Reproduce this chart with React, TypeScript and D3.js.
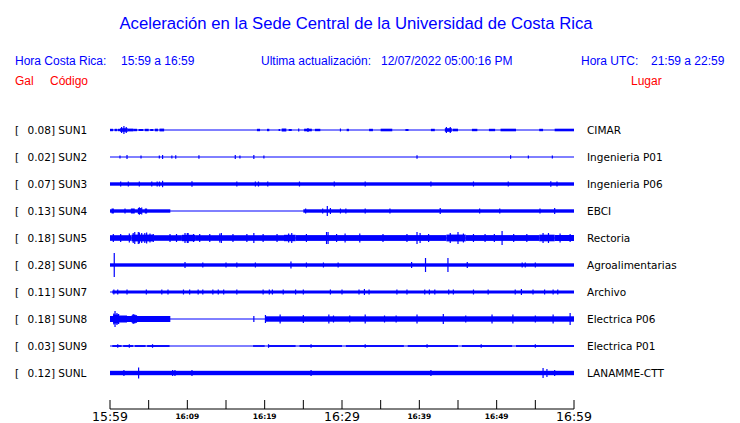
import React from "react";
import * as d3 from "d3";

// ---------- data ----------
const codes = ["SUN1", "SUN2", "SUN3", "SUN4", "SUN5", "SUN6", "SUN7", "SUN8", "SUN9", "SUNL"];
const gals = ["0.08", "0.02", "0.07", "0.13", "0.18", "0.28", "0.11", "0.18", "0.03", "0.12"];
const places = ["CIMAR", "Ingenieria P01", "Ingenieria P06", "EBCI", "Rectoria", "Agroalimentarias", "Archivo", "Electrica P06", "Electrica P01", "LANAMME-CTT"];

const tickMinutes = [0, 5, 10, 15, 20, 25, 30, 35, 40, 45, 50, 55, 60];
const labelMinutes = [0, 10, 20, 30, 40, 50, 60];
const labelTexts = ["15:59", "16:09", "16:19", "16:29", "16:39", "16:49", "16:59"];
const bigLabels = ["15:59", "16:29", "16:59"];

// envelope bands: [startMinute, endMinute, halfAmplitude]
const sun1Bands = [[0, 0.4, 1.2], [0.6, 0.9, 1.2], [1.0, 1.3, 1.2], [1.3, 2.3, 1.8], [2.3, 3.0, 1.4], [3.0, 3.5, 1.2], [3.7, 4.3, 1.0], [4.5, 5.0, 1.2], [5.2, 5.6, 1.0], [5.8, 6.2, 1.3], [6.4, 7.0, 1.4], [19.0, 19.4, 1.2], [20.3, 20.6, 1.2], [21.8, 22.0, 1.0], [22.2, 22.8, 1.5], [23.1, 23.5, 1.0], [25.1, 26.1, 1.3], [26.5, 27.2, 1.2], [30.6, 30.9, 1.2], [33.5, 34.0, 1.2], [35.0, 36.5, 1.3], [38.2, 38.6, 1.0], [41.5, 42.0, 1.2], [43.3, 44.2, 1.8], [44.3, 45.0, 1.3], [46.8, 47.5, 1.2], [49.0, 49.8, 1.2], [50.5, 52.5, 1.3], [55.5, 56.0, 1.2], [57.5, 60, 1.3]];
const sun1Spikes = [[1.5, 3], [1.8, 4], [2.1, 3], [24.4, 1.5], [25.6, 2], [29.8, 1.5], [43.5, 3], [44.0, 3]];

const sun2Bands = [];
const sun2Spikes = [[1.29, 1.5], [2.2, 2], [4.01, 1.5], [6.38, 1.5], [6.8, 2], [8.0, 1.5], [8.5, 1.8], [11.5, 1.8], [16.2, 2], [16.8, 1.5], [18.6, 2], [19.9, 1.5], [39.7, 1.8], [51.8, 1.8], [54.1, 1.5], [57.2, 1.5]];

const sun3Bands = [[0, 60, 1.7]];
const sun3Spikes = [[1.38, 2.5], [2.37, 2.5], [3.79, 2.5], [5.4, 2.5], [6.1, 2.5], [6.4, 2.5], [6.8, 3.2], [10.6, 2.8], [16.4, 2.5], [18.8, 2.5], [19.2, 2.5], [20.4, 2.5], [24.5, 2.5], [29.0, 2.5], [33.0, 2.5], [41.5, 2.5], [47.0, 2.5], [51.5, 2.5], [57.0, 2.8], [57.8, 2.5]];

const sun4Bands = [[0, 7.8, 1.7], [0.2, 0.5, 2.5], [2.7, 3.2, 2.5], [3.6, 4.0, 3.0], [4.5, 4.8, 2.5], [25.0, 60, 1.7]];
const sun4Spikes = [[1.94, 2.5], [3.8, 3.8], [4.1, 3.5], [25.3, 2.5], [27.5, 2.5], [28.1, 5], [28.5, 3], [29.8, 2.5], [30.5, 2.5], [33.0, 2.5], [36.2, 2.5], [42.7, 3], [47.8, 2.5], [50.4, 2.5], [55.6, 2.5], [57.5, 3]];

const sun5Bands = [[0, 2.8, 2.8], [2.8, 5.6, 3.4], [5.6, 9.3, 2.8], [9.3, 11, 3.2], [11, 22.5, 2.8], [22.5, 24, 3.2], [24, 43.5, 2.9], [43.5, 46, 3.4], [46, 55.5, 2.9], [55.5, 57.5, 3.3], [57.5, 60, 3.0]];
const sun5Spikes = [[0.43, 4], [1.38, 4], [2.5, 4.5], [3.0, 5], [3.2, 6], [3.66, 6], [3.8, 5.5], [4.1, 5], [4.5, 5], [4.74, 5.5], [5.17, 4.5], [5.6, 4], [7.76, 4], [8.6, 4], [9.7, 5], [10.0, 5], [10.1, 5], [10.8, 4], [11.6, 4], [12.9, 4], [14.2, 4.5], [14.4, 5], [15.9, 4], [17.7, 4], [18.6, 5], [19.8, 4], [21.6, 4], [23.1, 4.5], [23.5, 5], [25.4, 4], [28.0, 6], [28.2, 6], [29.3, 4], [30.4, 4.5], [32.3, 4.5], [35.3, 4], [38.4, 4], [39.7, 6], [40.1, 5], [41.2, 4], [44.0, 5], [45.0, 6], [45.7, 4.5], [47.0, 4], [48.5, 4], [49.7, 4], [50.7, 7], [52.2, 4], [53.9, 4], [56.0, 5], [56.7, 5], [58.2, 4.5], [59.5, 4]];

const sun6Bands = [[0, 60, 1.7]];
const sun6Spikes = [[0.55, 12], [9.7, 3], [12.0, 2.5], [15.0, 2.5], [16.4, 2.5], [18.8, 2.5], [23.4, 3.5], [25.4, 2.5], [27.6, 2.5], [29.5, 2.5], [39.0, 3], [40.8, 7], [43.7, 7], [46.2, 3], [53.3, 2.5], [53.7, 2.5], [55.0, 2.5]];

const sun7Bands = [[0.3, 60, 1.5]];
const sun7Spikes = [[0.5, 2.5], [1.0, 2.5], [2.2, 2.5], [4.7, 2.5], [6.7, 2.5], [7.5, 2.5], [9.5, 2.5], [10.3, 2.5], [11.4, 2.5], [12.0, 2.5], [13.3, 2.5], [14.0, 2.5], [14.7, 2.5], [16.4, 2.5], [19.8, 2.5], [20.6, 2.5], [21.0, 2.5], [22.4, 2.5], [24.0, 2.5], [25.0, 2.5], [28.5, 2.5], [30.0, 2.5], [32.2, 2.5], [32.9, 3], [33.5, 2.5], [37.1, 2.5], [38.4, 2.5], [40.7, 2.5], [41.3, 2.5], [42.0, 2.5], [43.8, 2.5], [44.4, 2.5], [47.0, 2.5], [48.9, 2.5], [52.4, 2.5], [53.2, 3], [54.7, 2.5], [56.2, 2.5], [57.3, 2.5], [57.9, 2.5]];

const sun8Bands = [[0, 7.8, 3.0], [0.4, 1.2, 4.5], [1.2, 2.2, 3.5], [2.8, 3.5, 3.8], [20.1, 60, 2.7]];
const sun8Spikes = [[0.65, 8], [0.9, 6], [0.5, 5.5], [1.1, 5], [3.0, 5], [3.2, 4.5], [18.6, 3], [20.1, 4], [22.0, 4.5], [25.0, 4], [28.3, 4.5], [28.9, 3.5], [31.0, 3.5], [33.0, 4.5], [35.5, 3.5], [37.0, 3.5], [39.7, 4.5], [43.1, 5], [46.0, 3.5], [49.4, 4.5], [52.1, 4.5], [55.0, 3.5], [57.3, 4.5], [59.5, 6]];

const sun9Bands = [[0.3, 1.5, 0.9], [1.7, 3.0, 0.9], [3.2, 4.6, 0.9], [4.8, 7.7, 0.9], [18.5, 20, 0.8], [20.5, 24, 0.9], [24.5, 30, 0.9], [30.5, 38, 0.9], [38.5, 45, 0.9], [45.5, 52, 0.9], [52.5, 60, 0.9]];
const sun9Spikes = [[1.0, 1.8], [2.5, 1.8], [5.5, 1.8], [20.5, 1.8], [26.0, 1.8], [33.0, 1.8], [41.0, 1.8], [48.0, 1.8], [55.0, 1.8]];

const sunLBands = [[0, 60, 2.2]];
const sunLSpikes = [[1.8, 3], [3.7, 5.5], [8.1, 3], [8.4, 3], [10.6, 3], [26.0, 3], [41.5, 3], [56.0, 5], [56.5, 4], [57.5, 3]];

const bandsList = [sun1Bands, sun2Bands, sun3Bands, sun4Bands, sun5Bands, sun6Bands, sun7Bands, sun8Bands, sun9Bands, sunLBands];
const spikesList = [sun1Spikes, sun2Spikes, sun3Spikes, sun4Spikes, sun5Spikes, sun6Spikes, sun7Spikes, sun8Spikes, sun9Spikes, sunLSpikes];

// ---------- layout ----------
const W = 740;
const H = 423;
const BLUE = "#0000ff";
const RED = "#ff0000";
const HEAD_FONT = "'Liberation Sans', Arial, sans-serif";
const LABEL_FONT = "'DejaVu Sans', Verdana, sans-serif";

export default function App() {
  const x = d3.scaleLinear().domain([0, 60]).range([110, 574]);
  const y = d3.scalePoint().domain(codes).range([130, 373]);
  const amp = d3.scaleLinear().domain([0, 13]).range([0, 13]);
  const axisY = 409;

  return (
    <svg width={W} height={H} style={{ position: "absolute", left: 0, top: 0, background: "#fff" }}>
      <rect x={0} y={0} width={W} height={H} fill="#fff" />
      <text x={356} y={29} textAnchor="middle" fill={BLUE} fontFamily={HEAD_FONT} fontSize={16.7}>
        Aceleración en la Sede Central de la Universidad de Costa Rica
      </text>
      <g fontFamily={HEAD_FONT} fontSize={12} fill={BLUE}>
        <text x={15} y={65}>Hora Costa Rica:</text>
        <text x={121} y={65}>15:59 a 16:59</text>
        <text x={261} y={65}>Ultima actualización:</text>
        <text x={381} y={65}>12/07/2022 05:00:16 PM</text>
        <text x={581} y={65}>Hora UTC:</text>
        <text x={651} y={65}>21:59 a 22:59</text>
      </g>
      <g fontFamily={HEAD_FONT} fontSize={12} fill={RED}>
        <text x={15} y={85}>Gal</text>
        <text x={50} y={85}>Código</text>
        <text x={631} y={85}>Lugar</text>
      </g>

      {codes.map((c, i) => {
        const by = y(c) as number;
        return (
          <g key={c}>
            <text x={15} y={by + 4} fontFamily={LABEL_FONT} fontSize={10.5} fill="#000">[</text>
            <text x={27.5} y={by + 4} fontFamily={LABEL_FONT} fontSize={10.5} fill="#000">{gals[i]}] {c}</text>
            <text x={587} y={by + 4} fontFamily={LABEL_FONT} fontSize={10.5} fill="#000">{places[i]}</text>
            <line x1={x(0)} x2={x(60)} y1={by} y2={by} stroke={BLUE} strokeWidth={1} />
            {bandsList[i].map((b, j) => (
              <rect key={"b" + j} x={x(b[0])} width={x(b[1]) - x(b[0])} y={by - amp(b[2])} height={2 * amp(b[2])} fill={BLUE} />
            ))}
            {spikesList[i].map((s, j) => (
              <line key={"s" + j} x1={x(s[0])} x2={x(s[0])} y1={by - amp(s[1])} y2={by + amp(s[1])} stroke={BLUE} strokeWidth={1.2} />
            ))}
          </g>
        );
      })}

      <line x1={x(0)} x2={x(60)} y1={axisY} y2={axisY} stroke="#000" strokeWidth={1} />
      {tickMinutes.map((m) => (
        <line key={m} x1={x(m)} x2={x(m)} y1={axisY} y2={axisY - 9} stroke="#000" strokeWidth={1} />
      ))}
      {labelMinutes.map((m, i) => {
        const big = bigLabels.includes(labelTexts[i]);
        return (
          <text key={m} x={x(m)} y={big ? 421 : 419} textAnchor="middle" fontFamily={LABEL_FONT}
            fontSize={big ? 12.5 : 7.5} fontWeight={big ? 400 : 700} fill="#000">
            {labelTexts[i]}
          </text>
        );
      })}
    </svg>
  );
}
